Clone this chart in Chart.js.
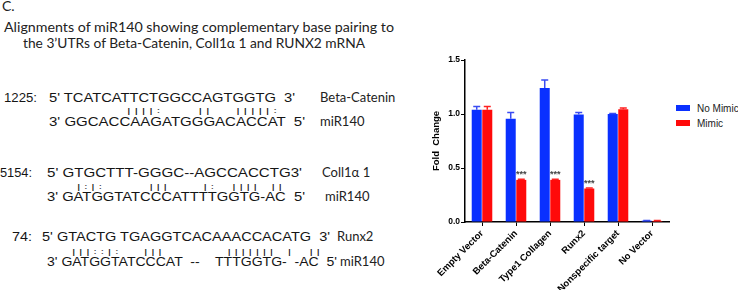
<!DOCTYPE html>
<html>
<head>
<meta charset="utf-8">
<script src="https://cdn.jsdelivr.net/npm/chart.js@4.4.1/dist/chart.umd.min.js"></script>
<style>
  body { margin: 0; width: 738px; height: 290px; background: #fff; position: relative; overflow: hidden; }
  #left { position: absolute; left: 0; top: 0; }
  #left text { white-space: pre; }
  .seq { font-family: "Liberation Sans", Arial, sans-serif; font-size: 12px; fill: #151515; }
  .pip { font-family: "Liberation Sans", Arial, sans-serif; font-size: 7px; fill: #151515; }
  .lab { font-family: Lato, "Open Sans", sans-serif; font-size: 13px; fill: #222; }
  .ttl { font-family: Lato, "Open Sans", sans-serif; font-size: 14px; fill: #222; }
  #chartBox { position: absolute; left: 425px; top: 40px; width: 250px; height: 250px; }
  .leg { position: absolute; left: 676px; white-space: nowrap; font: 10px "Liberation Sans", Arial, sans-serif; color: #222; line-height: 12px; }
  .sw { display: inline-block; width: 14px; height: 6px; margin-right: 7px; vertical-align: 1px; }
</style>
</head>
<body>
<svg id="left" width="420" height="290" xmlns="http://www.w3.org/2000/svg"></svg>
<div id="chartBox"><canvas id="myChart" width="250" height="250"></canvas></div>
<div class="leg" style="top:103px"><span class="sw" style="background:#0a30ff"></span>No Mimic</div>
<div class="leg" style="top:118px"><span class="sw" style="background:#ff0a0a"></span>Mimic</div>

<script>
// chart values
var categories = ['Empty Vector', 'Beta-Catenin', 'Type1 Collagen', 'Runx2', 'Nonspecific target', 'No Vector'];
var noMimic    = [1.04, 0.955, 1.24, 0.995, 1.0, 0.012];
var noMimicErr = [0.03, 0.06, 0.075, 0.02, 0.005, 0.003];
var mimic      = [1.04, 0.39, 0.39, 0.31, 1.045, 0.01];
var mimicErr   = [0.03, 0.005, 0.005, 0.005, 0.01, 0.003];
var mimicStars = ['', '***', '***', '***', '', ''];
var yTicks     = [0, 0.5, 1.0, 1.5];

// left panel: alignment text
var rows = [
  // text, x, y, length (0 = natural), class
  ['C.', 2, 11, 0, 'ttl'],
  ['Alignments of miR140 showing complementary base pairing to', 4, 32, 390, 'ttl'],
  ['the 3\u2019UTRs of Beta-Catenin, Coll1\u03b1 1 and RUNX2 mRNA', 23, 48, 342, 'ttl'],

  ['1225:', 4, 102, 33, 'seq'],
  ["5' TCATCATTCTGGCCAGTGGTG  3'", 49, 102, 246, 'seq'],
  ['| | | | :          | |       | | | | | :', 127, 113, 150, 'pip'],
  ["3' GGCACCAAGATGGGACACCAT  5'", 49, 126, 256, 'seq'],
  ['Beta-Catenin', 320, 102, 0, 'lab'],
  ['miR140', 320, 126, 0, 'lab'],

  ['5154:', 0, 177, 32, 'seq'],
  ["5' GTGCTTT-GGGC--AGCCACCTG3'", 47, 177, 255, 'seq'],
  ['| : | :             | | |          | :     | | | |    | |', 77, 189, 205, 'pip'],
  ["3' GATGGTATCCCATTTTGGTG-AC  5'", 47, 201, 258, 'seq'],
  ['Coll1\u03b1 1', 322, 177, 0, 'lab'],
  ['miR140', 325, 201, 0, 'lab'],

  ['74:', 12, 241, 20, 'seq'],
  ["5' GTACTG TGAGGTCACAAACCACATG  3'", 42, 241, 288, 'seq'],
  ['| | | : : | :       | | |                  | | | | | | |    |     | |', 72, 254, 248, 'pip'],
  ["3' GATGGTATCCCAT  --    TTTGGTG-  -AC  5'", 47, 266, 290, 'seq'],
  ['Runx2', 337, 241, 0, 'lab'],
  ['miR140', 340, 266, 0, 'lab']
];

var svg = document.getElementById('left');
rows.forEach(function(r) {
  var t = document.createElementNS('http://www.w3.org/2000/svg', 'text');
  t.setAttribute('x', r[1]);
  t.setAttribute('y', r[2]);
  t.setAttribute('class', r[4]);
  if (r[3] > 0) {
    t.setAttribute('textLength', r[3]);
    t.setAttribute('lengthAdjust', 'spacingAndGlyphs');
  }
  t.textContent = r[0];
  svg.appendChild(t);
});

// error bars and significance stars
var errorBars = {
  id: 'errorBars',
  afterDatasetsDraw: function(chart) {
    var ctx = chart.ctx;
    var y = chart.scales.y;
    chart.data.datasets.forEach(function(ds, i) {
      var meta = chart.getDatasetMeta(i);
      meta.data.forEach(function(bar, j) {
        var top = y.getPixelForValue(ds.data[j] + ds.err[j]);
        ctx.save();
        ctx.strokeStyle = ds.errColor;
        ctx.lineWidth = 1.5;
        ctx.beginPath();
        ctx.moveTo(bar.x, bar.y);
        ctx.lineTo(bar.x, top);
        ctx.moveTo(bar.x - 3.5, top);
        ctx.lineTo(bar.x + 3.5, top);
        ctx.stroke();
        if (ds.stars && ds.stars[j]) {
          ctx.fillStyle = '#444';
          ctx.font = 'bold 9px "Liberation Sans", Arial';
          ctx.textAlign = 'center';
          ctx.textBaseline = 'alphabetic';
          ctx.fillText(ds.stars[j], bar.x, top - 2);
        }
        ctx.restore();
      });
    });
  }
};

var chart = new Chart(document.getElementById('myChart'), {
  type: 'bar',
  data: {
    labels: categories,
    datasets: [{
      label: 'No Mimic',
      data: noMimic,
      err: noMimicErr,
      errColor: '#3a4cf2',
      backgroundColor: '#0a30ff',
      barPercentage: 0.95,
      categoryPercentage: 0.62
    }, {
      label: 'Mimic',
      data: mimic,
      err: mimicErr,
      errColor: '#ff2020',
      stars: mimicStars,
      backgroundColor: '#ff0a0a',
      barPercentage: 0.95,
      categoryPercentage: 0.62
    }]
  },
  options: {
    responsive: false,
    animation: false,
    devicePixelRatio: 1,
    layout: { padding: { top: 20, right: 6, left: 0, bottom: 0 } },
    plugins: { legend: { display: false }, tooltip: { enabled: false } },
    scales: {
      x: {
        afterFit: function(s) { s.height = 68; },
        grid: { display: true, offset: false, drawOnChartArea: false, tickLength: 4, color: '#000', lineWidth: 1 },
        border: { display: true, color: '#000', width: 1.5 },
        ticks: {
          color: '#000', padding: 2, minRotation: 45, maxRotation: 45, autoSkip: false,
          font: { family: '"Liberation Sans", Arial', size: 9.5, weight: 'bold' }
        }
      },
      y: {
        min: 0, max: 1.5,
        afterFit: function(s) { s.width = 40; },
        afterBuildTicks: function(s) { s.ticks = yTicks.map(function(v) { return { value: v }; }); },
        grid: { display: true, drawOnChartArea: false, tickLength: 4, color: '#000', lineWidth: 1 },
        border: { display: true, color: '#000', width: 1.5 },
        ticks: {
          color: '#000', padding: 1,
          font: { family: '"Liberation Sans", Arial', size: 8.5, weight: 'bold' },
          callback: function(v) { return Number(v).toFixed(1); }
        },
        title: {
          display: true, text: 'Fold  Change', color: '#000',
          padding: { top: 6, bottom: 0 },
          font: { family: '"Liberation Sans", Arial', size: 9.5, weight: 'bold' }
        }
      }
    }
  },
  plugins: [errorBars]
});
</script>
</body>
</html>
